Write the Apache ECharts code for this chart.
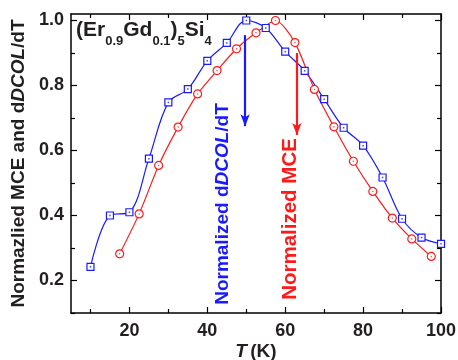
<!DOCTYPE html>
<html><head><meta charset="utf-8">
<script src="https://cdn.jsdelivr.net/npm/echarts@6/dist/echarts.min.js"></script>
<style>html,body{margin:0;padding:0;background:#fff}#c{width:458px;height:360px}</style>
</head><body><div id="c"></div>
<script>
const blueT = [10,15,20,25,30,35,40,45,50,55,60,65,70,75,80,85,90,95,100];
const blueY = [0.242,0.40,0.41,0.575,0.748,0.789,0.876,0.931,1.0,0.977,0.904,0.845,0.758,0.67,0.615,0.517,0.39,0.332,0.313];
const redT = [17.5,22.5,27.5,32.5,37.5,42.5,47.5,52.5,57.5,62.5,67.5,72.5,77.5,82.5,87.5,92.5,97.5];
const redY = [0.282,0.405,0.554,0.672,0.774,0.846,0.913,0.962,1.0,0.932,0.788,0.673,0.567,0.474,0.392,0.328,0.274];
const xMajor = [20,40,60,80,100];
const xMinor = [10,30,50,70,90];
const yMajor = [0.2,0.4,0.6,0.8,1.0];
const yMinor = [0.1,0.3,0.5,0.7,0.9];
const blueArrow = [[49.7,0.955],[49.7,0.675]];
const redArrow = [[63.0,0.90],[63.0,0.648]];

const BLUE = '#1a1aff', RED = '#ff1a1a', FONT = 'Liberation Sans', INK = '#231f20';
const pair = (xs, ys) => xs.map((x, i) => [x, ys[i]]);
const labelStyle = {fontFamily: FONT, fontWeight: 'bold', fontSize: 18, color: INK};
const axisLine = {show: true, lineStyle: {color: '#000', width: 1.5}};
const noLine = {show: false};
const tick = (vals, len) => ({show: true, inside: true, length: len, customValues: vals, lineStyle: {color: '#000', width: 1.2}});
const X = {type: 'value', min: 5, max: 100, splitLine: {show: false}};
const Y = {type: 'value', min: 0.1, max: 1.02, splitLine: {show: false}};
const rich = (fs) => ({
  i: {fontFamily: FONT, fontWeight: 'bold', fontStyle: 'italic', fontSize: fs, color: INK},
  b: {fontFamily: FONT, fontWeight: 'bold', fontSize: fs, color: INK}});

const chart = echarts.init(document.getElementById('c'), null, {renderer: 'canvas'});
chart.setOption({
  animation: false,
  grid: {left: 71, right: 17, top: 14, bottom: 47, containLabel: false, outerBoundsMode: 'none'},
  xAxis: [
    Object.assign({}, X, {position: 'bottom', axisLine, axisTick: tick(xMajor, 6),
      axisLabel: Object.assign({margin: 9, customValues: xMajor}, labelStyle),
      name: '{i|T} {b|(K)}', nameLocation: 'middle', nameGap: 29, nameMoveOverlap: false, nameTextStyle: {rich: rich(19)}}),
    Object.assign({}, X, {position: 'top', axisLine, axisTick: tick(xMajor, 6), axisLabel: {show: false}}),
    Object.assign({}, X, {position: 'bottom', offset: 0, axisLine: noLine, axisTick: tick(xMinor, 4), axisLabel: {show: false}}),
    Object.assign({}, X, {position: 'top', offset: 0, axisLine: noLine, axisTick: tick(xMinor, 4), axisLabel: {show: false}})
  ],
  yAxis: [
    Object.assign({}, Y, {position: 'left', axisLine, axisTick: tick(yMajor, 6),
      axisLabel: Object.assign({margin: 7, customValues: yMajor, formatter: v => v.toFixed(1)}, labelStyle),
      name: '{b|Normazlied MCE and d}{i|DCOL}{b|/dT}', nameLocation: 'middle', nameGap: 42, nameTextStyle: {rich: rich(19)}}),
    Object.assign({}, Y, {position: 'right', axisLine, axisTick: tick(yMajor, 6), axisLabel: {show: false}}),
    Object.assign({}, Y, {position: 'left', offset: 0, axisLine: noLine, axisTick: tick(yMinor, 4), axisLabel: {show: false}}),
    Object.assign({}, Y, {position: 'right', offset: 0, axisLine: noLine, axisTick: tick(yMinor, 4), axisLabel: {show: false}})
  ],
  series: [
    {type: 'line', data: pair(blueT, blueY), smooth: 0.35, symbol: 'rect', symbolSize: 7,
     lineStyle: {color: BLUE, width: 1.2}, itemStyle: {color: '#fff', borderColor: BLUE, borderWidth: 1.2}, z: 3,
     markLine: {silent: true, symbol: ['none', 'arrow'], symbolSize: [7, 12], label: {show: false},
                lineStyle: {color: BLUE, width: 2.2, type: 'solid'},
                data: [[{coord: blueArrow[0]}, {coord: blueArrow[1]}]]}},
    {type: 'line', data: pair(redT, redY), smooth: 0.25, symbol: 'circle', symbolSize: 8,
     lineStyle: {color: RED, width: 1.2}, itemStyle: {color: '#fff', borderColor: RED, borderWidth: 1.2}, z: 3,
     markLine: {silent: true, symbol: ['none', 'arrow'], symbolSize: [7, 12], label: {show: false},
                lineStyle: {color: RED, width: 2.2, type: 'solid'},
                data: [[{coord: redArrow[0]}, {coord: redArrow[1]}]]}},
    {type: 'scatter', data: pair(blueT, blueY), symbol: 'rect', symbolSize: 1.5, itemStyle: {color: BLUE}, z: 4, silent: true},
    {type: 'scatter', data: pair(redT, redY), symbol: 'circle', symbolSize: 1.5, itemStyle: {color: RED}, z: 4, silent: true}
  ],
  graphic: [
    {type: 'text', left: 76, top: 20, z: 10,
     style: {text: '{a|(Er}{s|0.9}{a|Gd}{s|0.1}{a|)}{s|5}{a|Si}{s|4}',
       rich: {a: {fontFamily: FONT, fontWeight: 'bold', fontSize: 21, lineHeight: 22, padding: [0, 0, 7, 0], verticalAlign: 'bottom', fill: INK},
              s: {fontFamily: FONT, fontWeight: 'bold', fontSize: 13, lineHeight: 13, verticalAlign: 'bottom', fill: INK}}}},
    {type: 'text', x: 223, y: 204, rotation: Math.PI / 2, z: 10,
     style: {text: '{b|Normalized d}{i|DCOL}{b|/dT}', align: 'center', verticalAlign: 'middle',
       rich: {b: {fontFamily: FONT, fontWeight: 'bold', fontSize: 19, fill: BLUE},
              i: {fontFamily: FONT, fontWeight: 'bold', fontStyle: 'italic', fontSize: 19, fill: BLUE}}}},
    {type: 'text', x: 290.5, y: 219, rotation: Math.PI / 2, z: 10,
     style: {text: 'Normalized MCE', align: 'center', verticalAlign: 'middle',
       fontFamily: FONT, fontWeight: 'bold', fontSize: 20.5, fill: RED}}
  ]
});
</script></body></html>
